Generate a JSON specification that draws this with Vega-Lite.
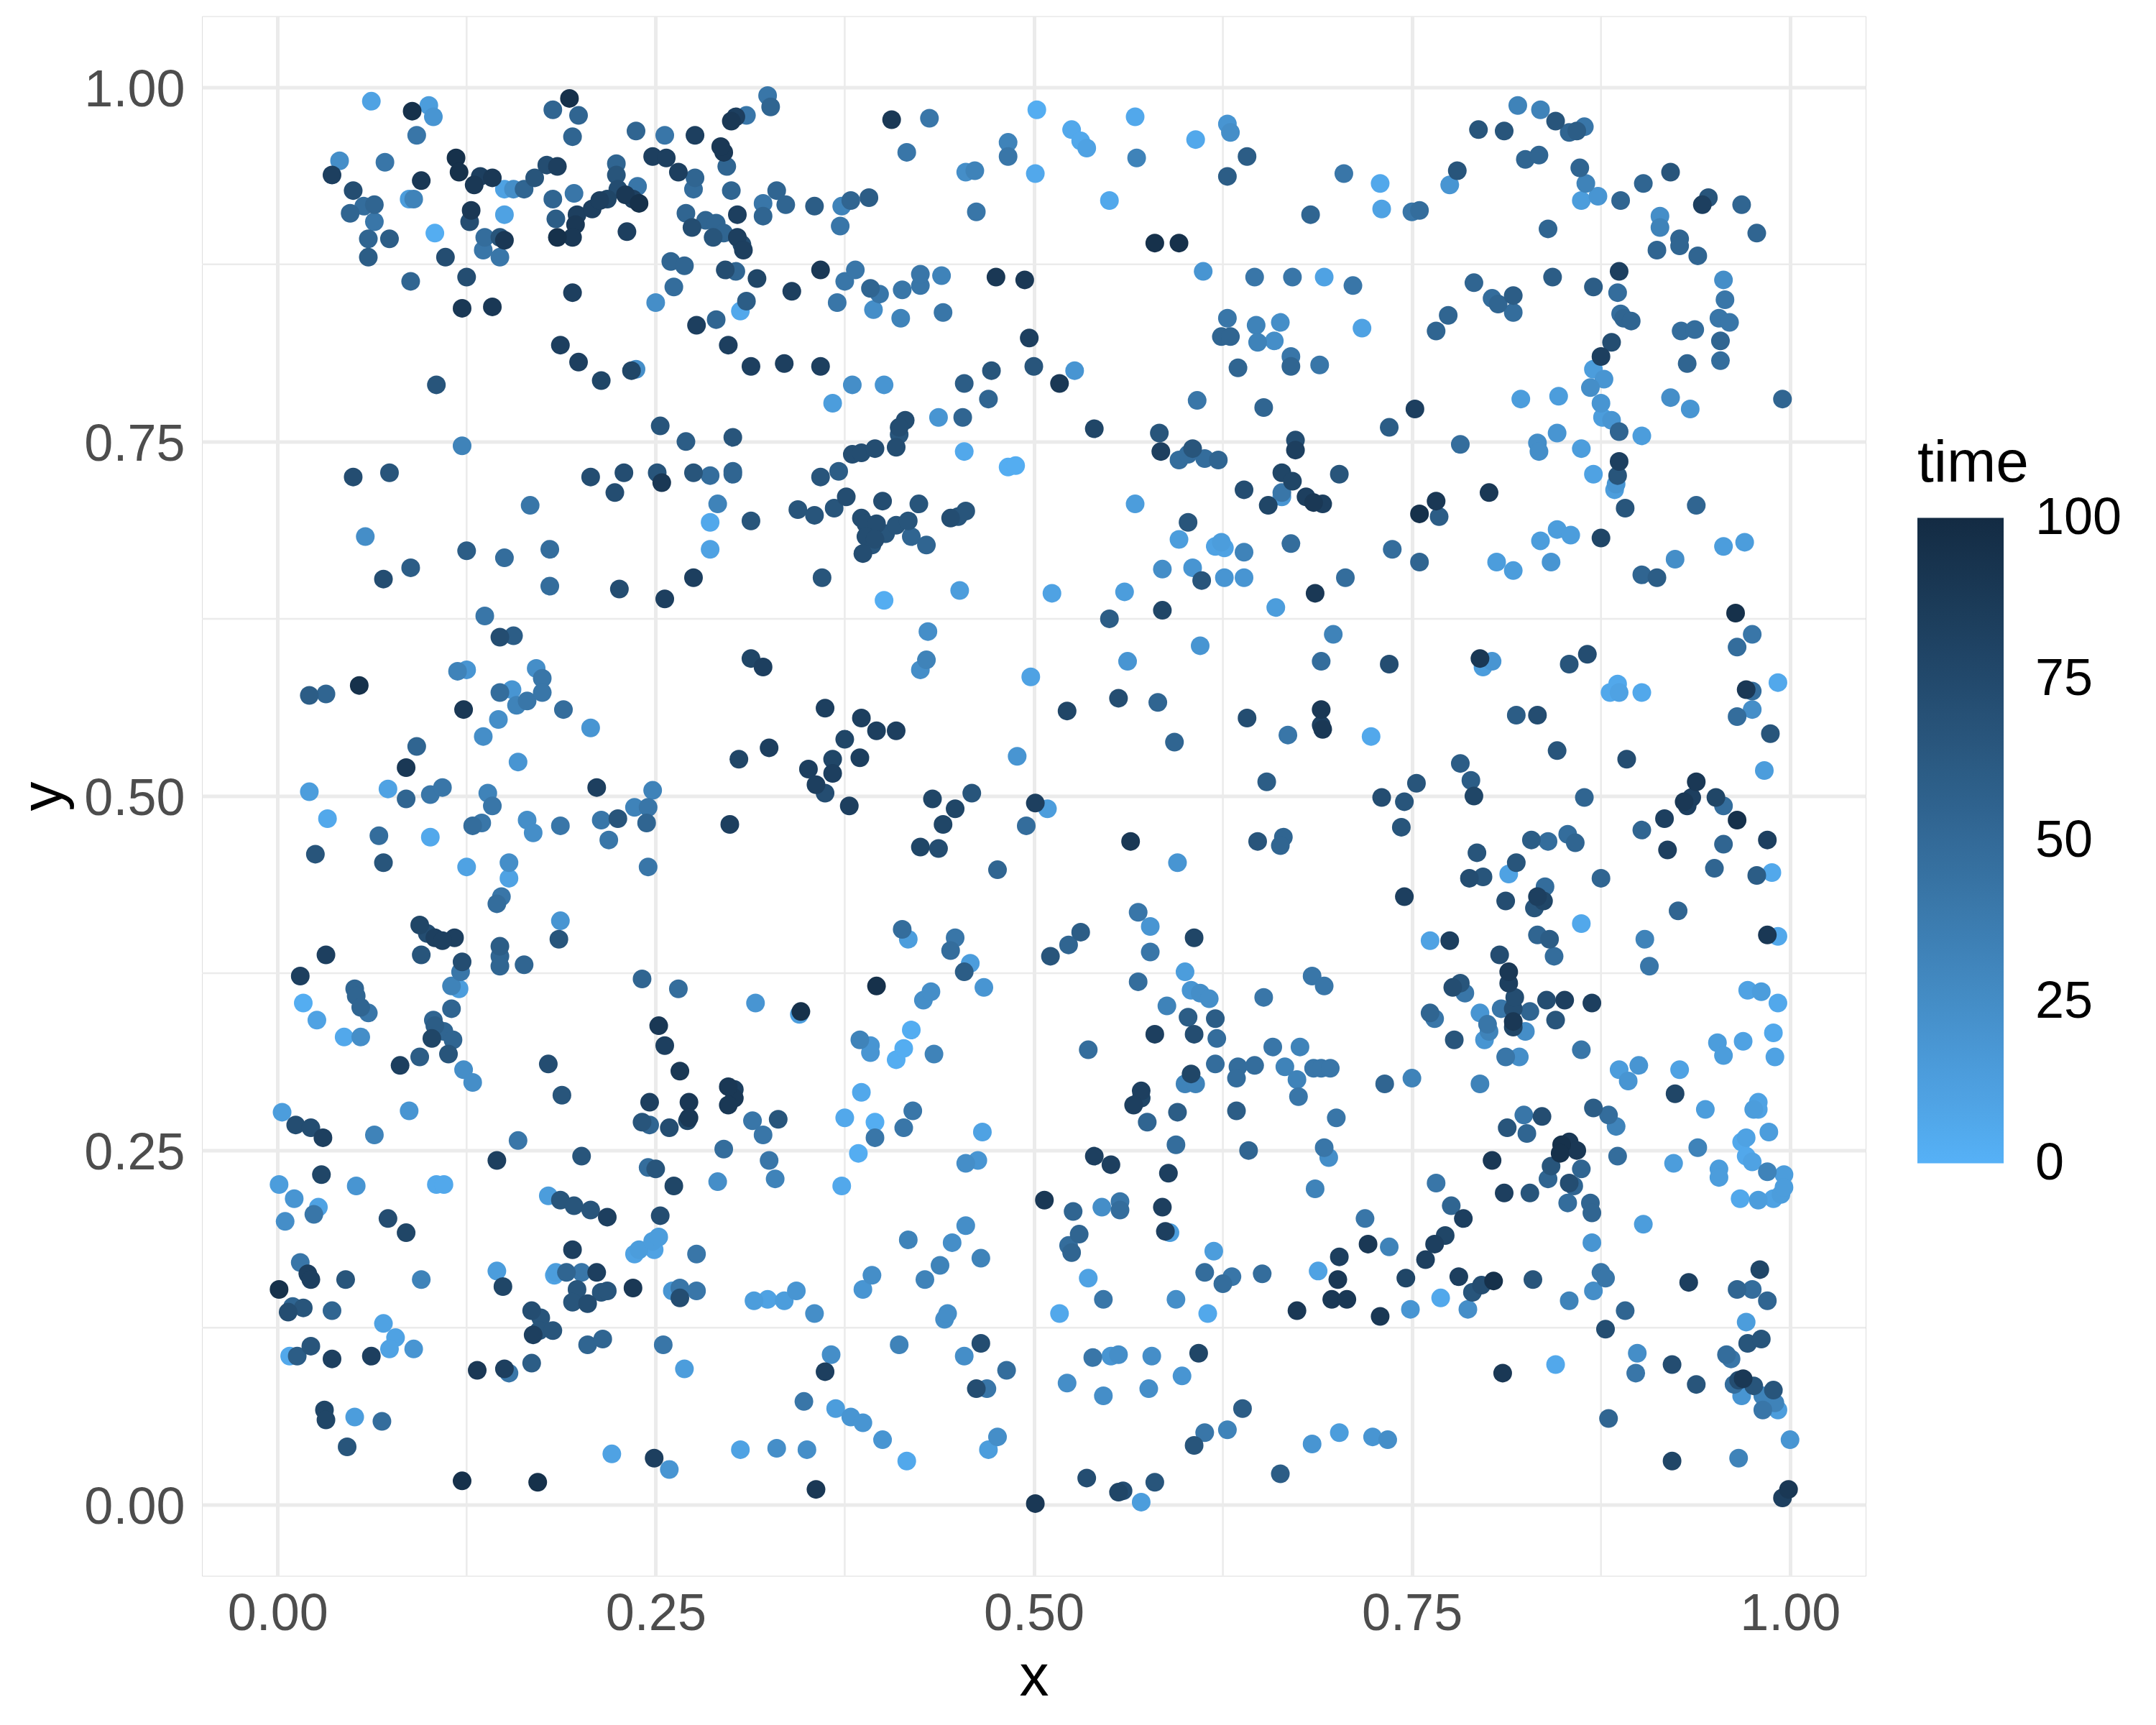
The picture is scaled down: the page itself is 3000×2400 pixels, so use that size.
{"$schema":"https://vega.github.io/schema/vega-lite/v6.json","width":2315,"height":2170,"autosize":{"type":"none"},"padding":{"left":281,"top":22.5,"right":404,"bottom":207.5},"background":"white",
"datasets":{"mx":[{"v":0.125},{"v":0.375},{"v":0.625},{"v":0.875}],
"pts":[
{"x":0.062,"y":0.99,"time":10},{"x":0.089,"y":0.983,"time":95},{"x":0.1,"y":0.987,"time":14},{"x":0.103,"y":0.979,"time":19},{"x":0.092,"y":0.966,"time":41},{"x":0.182,"y":0.984,"time":54},{"x":0.193,"y":0.992,"time":95},{"x":0.199,"y":0.98,"time":54},{"x":0.195,"y":0.965,"time":54},{"x":0.041,"y":0.948,"time":24},{"x":0.036,"y":0.938,"time":83},{"x":0.071,"y":0.947,"time":41},{"x":0.05,"y":0.927,"time":72},{"x":0.048,"y":0.911,"time":54},{"x":0.057,"y":0.916,"time":48},{"x":0.064,"y":0.917,"time":54},{"x":0.064,"y":0.905,"time":41},{"x":0.06,"y":0.893,"time":54},{"x":0.06,"y":0.88,"time":60},{"x":0.074,"y":0.893,"time":60},{"x":0.087,"y":0.921,"time":14},{"x":0.09,"y":0.921,"time":32},{"x":0.095,"y":0.934,"time":89},{"x":0.104,"y":0.897,"time":3},{"x":0.118,"y":0.95,"time":95},{"x":0.12,"y":0.94,"time":95},{"x":0.13,"y":0.931,"time":89},{"x":0.134,"y":0.937,"time":83},{"x":0.142,"y":0.936,"time":89},{"x":0.128,"y":0.913,"time":89},{"x":0.127,"y":0.905,"time":72},{"x":0.15,"y":0.928,"time":10},{"x":0.156,"y":0.928,"time":24},{"x":0.15,"y":0.91,"time":10},{"x":0.137,"y":0.894,"time":48},{"x":0.136,"y":0.885,"time":41},{"x":0.147,"y":0.894,"time":66},{"x":0.147,"y":0.88,"time":41},{"x":0.15,"y":0.892,"time":89},{"x":0.111,"y":0.88,"time":72},{"x":0.125,"y":0.866,"time":72},{"x":0.122,"y":0.844,"time":89},{"x":0.142,"y":0.845,"time":89},{"x":0.088,"y":0.863,"time":54},{"x":0.163,"y":0.928,"time":54},{"x":0.17,"y":0.936,"time":66},{"x":0.178,"y":0.945,"time":72},{"x":0.185,"y":0.944,"time":83},{"x":0.182,"y":0.921,"time":54},{"x":0.196,"y":0.925,"time":41},{"x":0.184,"y":0.907,"time":60},{"x":0.198,"y":0.91,"time":83},{"x":0.197,"y":0.903,"time":89},{"x":0.185,"y":0.894,"time":95},{"x":0.195,"y":0.894,"time":89},{"x":0.195,"y":0.855,"time":83},{"x":0.208,"y":0.914,"time":83},{"x":0.213,"y":0.92,"time":83},{"x":0.218,"y":0.921,"time":78},{"x":0.224,"y":0.946,"time":54},{"x":0.224,"y":0.938,"time":66},{"x":0.225,"y":0.928,"time":72},{"x":0.23,"y":0.924,"time":89},{"x":0.235,"y":0.921,"time":83},{"x":0.239,"y":0.918,"time":95},{"x":0.238,"y":0.93,"time":41},{"x":0.231,"y":0.898,"time":83},{"x":0.237,"y":0.969,"time":54},{"x":0.248,"y":0.951,"time":83},{"x":0.256,"y":0.966,"time":41},{"x":0.257,"y":0.95,"time":83},{"x":0.276,"y":0.966,"time":83},{"x":0.295,"y":0.954,"time":89},{"x":0.293,"y":0.958,"time":89},{"x":0.3,"y":0.976,"time":89},{"x":0.303,"y":0.979,"time":83},{"x":0.31,"y":0.98,"time":41},{"x":0.324,"y":0.994,"time":41},{"x":0.326,"y":0.986,"time":54},{"x":0.297,"y":0.944,"time":54},{"x":0.265,"y":0.94,"time":83},{"x":0.276,"y":0.936,"time":54},{"x":0.275,"y":0.928,"time":48},{"x":0.27,"y":0.911,"time":54},{"x":0.274,"y":0.901,"time":72},{"x":0.283,"y":0.906,"time":54},{"x":0.29,"y":0.904,"time":54},{"x":0.288,"y":0.894,"time":66},{"x":0.295,"y":0.897,"time":54},{"x":0.304,"y":0.91,"time":83},{"x":0.304,"y":0.894,"time":83},{"x":0.3,"y":0.927,"time":54},{"x":0.321,"y":0.918,"time":41},{"x":0.321,"y":0.909,"time":54},{"x":0.33,"y":0.927,"time":54},{"x":0.336,"y":0.917,"time":54},{"x":0.355,"y":0.916,"time":60},{"x":0.373,"y":0.916,"time":32},{"x":0.372,"y":0.902,"time":41},{"x":0.379,"y":0.92,"time":54},{"x":0.391,"y":0.922,"time":60},
{"x":0.406,"y":0.977,"time":89},{"x":0.431,"y":0.978,"time":41},{"x":0.416,"y":0.954,"time":41},{"x":0.483,"y":0.961,"time":32},{"x":0.483,"y":0.951,"time":41},{"x":0.455,"y":0.94,"time":24},{"x":0.461,"y":0.941,"time":32},{"x":0.462,"y":0.912,"time":41},{"x":0.502,"y":0.984,"time":3},{"x":0.501,"y":0.939,"time":6},{"x":0.525,"y":0.97,"time":6},{"x":0.531,"y":0.962,"time":6},{"x":0.535,"y":0.957,"time":10},{"x":0.55,"y":0.92,"time":6},{"x":0.567,"y":0.979,"time":6},{"x":0.568,"y":0.95,"time":32},{"x":0.607,"y":0.963,"time":6},{"x":0.628,"y":0.974,"time":19},{"x":0.63,"y":0.968,"time":24},{"x":0.628,"y":0.937,"time":60},{"x":0.641,"y":0.951,"time":60},{"x":0.683,"y":0.91,"time":54},{"x":0.705,"y":0.939,"time":41},{"x":0.729,"y":0.932,"time":6},{"x":0.73,"y":0.914,"time":10},{"x":0.75,"y":0.912,"time":41},{"x":0.755,"y":0.913,"time":48},{"x":0.775,"y":0.931,"time":19},{"x":0.78,"y":0.941,"time":66},{"x":0.794,"y":0.97,"time":66},{"x":0.811,"y":0.969,"time":66},{"x":0.82,"y":0.987,"time":32},{"x":0.835,"y":0.984,"time":32},{"x":0.845,"y":0.976,"time":66},{"x":0.854,"y":0.968,"time":54},{"x":0.859,"y":0.969,"time":60},{"x":0.864,"y":0.972,"time":41},{"x":0.825,"y":0.949,"time":54},{"x":0.834,"y":0.952,"time":54},{"x":0.861,"y":0.943,"time":54},{"x":0.865,"y":0.932,"time":32},{"x":0.873,"y":0.923,"time":19},{"x":0.862,"y":0.92,"time":14},{"x":0.84,"y":0.9,"time":54},{"x":0.888,"y":0.92,"time":54},{"x":0.903,"y":0.932,"time":54},{"x":0.921,"y":0.94,"time":66},{"x":0.914,"y":0.909,"time":24},{"x":0.914,"y":0.901,"time":32},{"x":0.927,"y":0.893,"time":54},{"x":0.927,"y":0.888,"time":54},{"x":0.912,"y":0.885,"time":54},{"x":0.939,"y":0.881,"time":54},{"x":0.946,"y":0.922,"time":66},{"x":0.942,"y":0.917,"time":83},{"x":0.968,"y":0.917,"time":54},{"x":0.978,"y":0.897,"time":54},
{"x":0.25,"y":0.848,"time":24},{"x":0.253,"y":0.761,"time":66},{"x":0.26,"y":0.877,"time":54},{"x":0.262,"y":0.859,"time":48},{"x":0.269,"y":0.874,"time":54},{"x":0.296,"y":0.871,"time":72},{"x":0.303,"y":0.87,"time":54},{"x":0.307,"y":0.889,"time":72},{"x":0.308,"y":0.885,"time":83},{"x":0.306,"y":0.842,"time":6},{"x":0.31,"y":0.849,"time":60},{"x":0.317,"y":0.865,"time":78},{"x":0.34,"y":0.856,"time":83},{"x":0.277,"y":0.832,"time":83},{"x":0.29,"y":0.836,"time":54},{"x":0.298,"y":0.818,"time":83},{"x":0.313,"y":0.803,"time":83},{"x":0.335,"y":0.805,"time":83},{"x":0.359,"y":0.871,"time":89},{"x":0.359,"y":0.803,"time":83},{"x":0.37,"y":0.848,"time":41},{"x":0.375,"y":0.863,"time":41},{"x":0.382,"y":0.871,"time":41},{"x":0.392,"y":0.858,"time":54},{"x":0.398,"y":0.854,"time":41},{"x":0.394,"y":0.843,"time":24},{"x":0.412,"y":0.837,"time":32},{"x":0.413,"y":0.857,"time":41},{"x":0.425,"y":0.86,"time":41},{"x":0.425,"y":0.868,"time":41},{"x":0.439,"y":0.867,"time":32},{"x":0.44,"y":0.841,"time":41},{"x":0.475,"y":0.866,"time":89},{"x":0.494,"y":0.864,"time":89},{"x":0.497,"y":0.823,"time":83},{"x":0.5,"y":0.803,"time":66},{"x":0.527,"y":0.8,"time":19},{"x":0.517,"y":0.791,"time":89},{"x":0.367,"y":0.777,"time":14},{"x":0.38,"y":0.79,"time":24},{"x":0.401,"y":0.79,"time":19},{"x":0.437,"y":0.767,"time":19},{"x":0.454,"y":0.791,"time":60},{"x":0.453,"y":0.767,"time":54},{"x":0.47,"y":0.78,"time":54},{"x":0.472,"y":0.8,"time":66},{"x":0.415,"y":0.765,"time":72},{"x":0.411,"y":0.76,"time":72},{"x":0.58,"y":0.89,"time":95},{"x":0.596,"y":0.89,"time":95},{"x":0.612,"y":0.87,"time":19},{"x":0.628,"y":0.837,"time":41},{"x":0.624,"y":0.824,"time":54},{"x":0.63,"y":0.824,"time":54},{"x":0.635,"y":0.802,"time":54},{"x":0.646,"y":0.866,"time":41},{"x":0.647,"y":0.832,"time":32},{"x":0.648,"y":0.82,"time":32},{"x":0.659,"y":0.821,"time":24},{"x":0.663,"y":0.834,"time":24},{"x":0.671,"y":0.866,"time":41},{"x":0.67,"y":0.81,"time":41},{"x":0.67,"y":0.803,"time":54},{"x":0.652,"y":0.774,"time":54},{"x":0.608,"y":0.779,"time":41},{"x":0.689,"y":0.804,"time":41},{"x":0.692,"y":0.866,"time":10},{"x":0.711,"y":0.86,"time":41},{"x":0.717,"y":0.83,"time":10},{"x":0.766,"y":0.828,"time":54},{"x":0.774,"y":0.839,"time":54},{"x":0.791,"y":0.862,"time":54},{"x":0.803,"y":0.851,"time":48},{"x":0.807,"y":0.847,"time":54},{"x":0.817,"y":0.853,"time":60},{"x":0.817,"y":0.841,"time":48},{"x":0.843,"y":0.866,"time":60},{"x":0.87,"y":0.859,"time":60},{"x":0.887,"y":0.87,"time":83},{"x":0.886,"y":0.855,"time":48},{"x":0.888,"y":0.84,"time":48},{"x":0.89,"y":0.837,"time":54},{"x":0.895,"y":0.835,"time":54},{"x":0.882,"y":0.82,"time":72},{"x":0.875,"y":0.81,"time":83},{"x":0.87,"y":0.801,"time":14},{"x":0.877,"y":0.794,"time":19},{"x":0.868,"y":0.788,"time":24},{"x":0.847,"y":0.782,"time":14},{"x":0.822,"y":0.78,"time":14},{"x":0.875,"y":0.777,"time":19},{"x":0.876,"y":0.767,"time":14},{"x":0.882,"y":0.765,"time":19},{"x":0.887,"y":0.757,"time":54},{"x":0.928,"y":0.828,"time":48},{"x":0.937,"y":0.829,"time":48},{"x":0.932,"y":0.805,"time":54},{"x":0.921,"y":0.781,"time":24},{"x":0.934,"y":0.773,"time":19},{"x":0.956,"y":0.864,"time":24},{"x":0.957,"y":0.85,"time":41},{"x":0.953,"y":0.837,"time":41},{"x":0.96,"y":0.834,"time":41},{"x":0.954,"y":0.821,"time":54},{"x":0.954,"y":0.807,"time":48},{"x":0.995,"y":0.78,"time":54},{"x":0.752,"y":0.773,"time":83},{"x":0.735,"y":0.76,"time":60},
{"x":0.05,"y":0.725,"time":72},{"x":0.074,"y":0.728,"time":66},{"x":0.058,"y":0.683,"time":24},{"x":0.07,"y":0.653,"time":72},{"x":0.088,"y":0.661,"time":60},{"x":0.122,"y":0.747,"time":32},{"x":0.125,"y":0.673,"time":60},{"x":0.15,"y":0.668,"time":48},{"x":0.105,"y":0.79,"time":66},{"x":0.187,"y":0.818,"time":83},{"x":0.199,"y":0.806,"time":83},{"x":0.214,"y":0.793,"time":78},{"x":0.234,"y":0.8,"time":78},{"x":0.237,"y":0.801,"time":24},{"x":0.207,"y":0.725,"time":72},{"x":0.223,"y":0.714,"time":72},{"x":0.229,"y":0.728,"time":72},{"x":0.254,"y":0.721,"time":89},{"x":0.27,"y":0.75,"time":60},{"x":0.251,"y":0.728,"time":66},{"x":0.275,"y":0.728,"time":66},{"x":0.286,"y":0.726,"time":48},{"x":0.291,"y":0.706,"time":32},{"x":0.286,"y":0.693,"time":6},{"x":0.286,"y":0.674,"time":10},{"x":0.301,"y":0.753,"time":66},{"x":0.301,"y":0.729,"time":54},{"x":0.301,"y":0.727,"time":54},{"x":0.313,"y":0.694,"time":66},{"x":0.275,"y":0.654,"time":83},{"x":0.226,"y":0.646,"time":72},{"x":0.256,"y":0.639,"time":83},{"x":0.167,"y":0.705,"time":41},{"x":0.18,"y":0.674,"time":48},{"x":0.18,"y":0.648,"time":48},{"x":0.137,"y":0.627,"time":41},{"x":0.147,"y":0.612,"time":72},{"x":0.156,"y":0.613,"time":60},{"x":0.344,"y":0.702,"time":66},{"x":0.355,"y":0.698,"time":66},{"x":0.359,"y":0.725,"time":66},{"x":0.371,"y":0.729,"time":60},{"x":0.38,"y":0.741,"time":72},{"x":0.386,"y":0.742,"time":72},{"x":0.395,"y":0.745,"time":72},{"x":0.409,"y":0.746,"time":72},{"x":0.411,"y":0.755,"time":66},{"x":0.36,"y":0.654,"time":66},{"x":0.368,"y":0.703,"time":66},{"x":0.376,"y":0.711,"time":72},{"x":0.386,"y":0.696,"time":72},{"x":0.389,"y":0.692,"time":72},{"x":0.396,"y":0.692,"time":72},{"x":0.4,"y":0.708,"time":72},{"x":0.389,"y":0.683,"time":72},{"x":0.395,"y":0.681,"time":72},{"x":0.387,"y":0.671,"time":72},{"x":0.393,"y":0.677,"time":66},{"x":0.402,"y":0.685,"time":66},{"x":0.409,"y":0.691,"time":66},{"x":0.417,"y":0.694,"time":66},{"x":0.419,"y":0.683,"time":54},{"x":0.424,"y":0.706,"time":66},{"x":0.429,"y":0.677,"time":54},{"x":0.445,"y":0.696,"time":72},{"x":0.45,"y":0.697,"time":66},{"x":0.455,"y":0.701,"time":66},{"x":0.454,"y":0.743,"time":6},{"x":0.483,"y":0.732,"time":3},{"x":0.488,"y":0.733,"time":3},{"x":0.401,"y":0.638,"time":3},{"x":0.451,"y":0.645,"time":14},{"x":0.43,"y":0.616,"time":24},{"x":0.512,"y":0.643,"time":10},{"x":0.54,"y":0.759,"time":78},{"x":0.583,"y":0.756,"time":66},{"x":0.584,"y":0.743,"time":83},{"x":0.605,"y":0.745,"time":66},{"x":0.596,"y":0.737,"time":48},{"x":0.602,"y":0.741,"time":48},{"x":0.613,"y":0.738,"time":48},{"x":0.622,"y":0.737,"time":54},{"x":0.639,"y":0.716,"time":72},{"x":0.567,"y":0.706,"time":14},{"x":0.602,"y":0.693,"time":66},{"x":0.596,"y":0.681,"time":14},{"x":0.585,"y":0.66,"time":24},{"x":0.605,"y":0.661,"time":19},{"x":0.611,"y":0.652,"time":66},{"x":0.62,"y":0.676,"time":10},{"x":0.624,"y":0.679,"time":14},{"x":0.626,"y":0.675,"time":10},{"x":0.639,"y":0.672,"time":32},{"x":0.626,"y":0.654,"time":19},{"x":0.639,"y":0.654,"time":19},{"x":0.66,"y":0.633,"time":14},{"x":0.585,"y":0.631,"time":78},{"x":0.56,"y":0.644,"time":14},{"x":0.55,"y":0.625,"time":60},{"x":0.61,"y":0.606,"time":19},{"x":0.655,"y":0.705,"time":78},{"x":0.664,"y":0.714,"time":41},{"x":0.664,"y":0.728,"time":78},{"x":0.671,"y":0.722,"time":78},{"x":0.673,"y":0.751,"time":72},{"x":0.673,"y":0.744,"time":83},{"x":0.664,"y":0.711,"time":19},{"x":0.67,"y":0.678,"time":48},{"x":0.68,"y":0.711,"time":83},{"x":0.685,"y":0.707,"time":89},{"x":0.691,"y":0.706,"time":83},{"x":0.702,"y":0.727,"time":66},{"x":0.706,"y":0.654,"time":48},{"x":0.686,"y":0.643,"time":89},{"x":0.698,"y":0.614,"time":32},{"x":0.737,"y":0.674,"time":48},{"x":0.755,"y":0.665,"time":54},{"x":0.766,"y":0.708,"time":89},{"x":0.755,"y":0.699,"time":95},{"x":0.768,"y":0.697,"time":60},{"x":0.782,"y":0.748,"time":48},{"x":0.801,"y":0.714,"time":89},{"x":0.806,"y":0.665,"time":14},{"x":0.817,"y":0.659,"time":14},{"x":0.833,"y":0.749,"time":24},{"x":0.834,"y":0.743,"time":24},{"x":0.846,"y":0.756,"time":19},{"x":0.862,"y":0.745,"time":14},{"x":0.87,"y":0.727,"time":10},{"x":0.887,"y":0.736,"time":83},{"x":0.886,"y":0.726,"time":66},{"x":0.885,"y":0.72,"time":19},{"x":0.884,"y":0.716,"time":14},{"x":0.902,"y":0.754,"time":14},{"x":0.835,"y":0.68,"time":14},{"x":0.846,"y":0.688,"time":14},{"x":0.855,"y":0.684,"time":14},{"x":0.842,"y":0.665,"time":19},{"x":0.875,"y":0.682,"time":78},{"x":0.891,"y":0.703,"time":66},{"x":0.902,"y":0.656,"time":54},{"x":0.912,"y":0.654,"time":60},{"x":0.924,"y":0.667,"time":24},{"x":0.938,"y":0.705,"time":54},{"x":0.956,"y":0.676,"time":14},{"x":0.97,"y":0.679,"time":14},{"x":0.964,"y":0.629,"time":95},{"x":0.975,"y":0.614,"time":41},{"x":0.965,"y":0.605,"time":48},
{"x":0.021,"y":0.571,"time":60},{"x":0.032,"y":0.572,"time":54},{"x":0.054,"y":0.578,"time":95},{"x":0.119,"y":0.588,"time":32},{"x":0.125,"y":0.589,"time":19},{"x":0.123,"y":0.561,"time":89},{"x":0.136,"y":0.542,"time":24},{"x":0.146,"y":0.554,"time":24},{"x":0.147,"y":0.573,"time":48},{"x":0.155,"y":0.575,"time":19},{"x":0.165,"y":0.567,"time":41},{"x":0.158,"y":0.564,"time":32},{"x":0.171,"y":0.59,"time":24},{"x":0.175,"y":0.583,"time":41},{"x":0.175,"y":0.573,"time":41},{"x":0.189,"y":0.561,"time":48},{"x":0.207,"y":0.548,"time":19},{"x":0.159,"y":0.524,"time":19},{"x":0.092,"y":0.535,"time":54},{"x":0.085,"y":0.52,"time":89},{"x":0.021,"y":0.503,"time":14},{"x":0.073,"y":0.505,"time":10},{"x":0.085,"y":0.498,"time":54},{"x":0.101,"y":0.501,"time":41},{"x":0.109,"y":0.506,"time":41},{"x":0.033,"y":0.484,"time":6},{"x":0.025,"y":0.459,"time":66},{"x":0.067,"y":0.472,"time":48},{"x":0.07,"y":0.453,"time":66},{"x":0.101,"y":0.471,"time":6},{"x":0.139,"y":0.502,"time":32},{"x":0.142,"y":0.493,"time":41},{"x":0.129,"y":0.479,"time":48},{"x":0.135,"y":0.481,"time":41},{"x":0.165,"y":0.483,"time":24},{"x":0.169,"y":0.474,"time":24},{"x":0.187,"y":0.479,"time":41},{"x":0.211,"y":0.506,"time":83},{"x":0.214,"y":0.483,"time":41},{"x":0.225,"y":0.484,"time":66},{"x":0.219,"y":0.469,"time":41},{"x":0.236,"y":0.492,"time":32},{"x":0.245,"y":0.492,"time":41},{"x":0.248,"y":0.504,"time":32},{"x":0.244,"y":0.481,"time":54},{"x":0.245,"y":0.45,"time":41},{"x":0.125,"y":0.45,"time":10},{"x":0.153,"y":0.453,"time":24},{"x":0.153,"y":0.442,"time":10},{"x":0.148,"y":0.429,"time":41},{"x":0.145,"y":0.424,"time":48},{"x":0.187,"y":0.412,"time":19},{"x":0.186,"y":0.399,"time":66},{"x":0.313,"y":0.597,"time":78},{"x":0.321,"y":0.591,"time":83},{"x":0.305,"y":0.526,"time":78},{"x":0.325,"y":0.534,"time":83},{"x":0.299,"y":0.48,"time":83},{"x":0.351,"y":0.519,"time":83},{"x":0.362,"y":0.562,"time":83},{"x":0.356,"y":0.508,"time":83},{"x":0.362,"y":0.502,"time":72},{"x":0.367,"y":0.526,"time":78},{"x":0.367,"y":0.516,"time":83},{"x":0.375,"y":0.54,"time":78},{"x":0.386,"y":0.555,"time":83},{"x":0.385,"y":0.527,"time":83},{"x":0.378,"y":0.493,"time":83},{"x":0.396,"y":0.546,"time":83},{"x":0.409,"y":0.546,"time":83},{"x":0.489,"y":0.528,"time":19},{"x":0.433,"y":0.498,"time":78},{"x":0.459,"y":0.502,"time":66},{"x":0.448,"y":0.491,"time":78},{"x":0.44,"y":0.48,"time":78},{"x":0.425,"y":0.464,"time":78},{"x":0.437,"y":0.463,"time":72},{"x":0.476,"y":0.448,"time":54},{"x":0.498,"y":0.584,"time":10},{"x":0.522,"y":0.56,"time":78},{"x":0.425,"y":0.589,"time":24},{"x":0.429,"y":0.596,"time":32},{"x":0.501,"y":0.495,"time":83},{"x":0.509,"y":0.491,"time":14},{"x":0.495,"y":0.479,"time":48},{"x":0.562,"y":0.595,"time":19},{"x":0.556,"y":0.569,"time":72},{"x":0.582,"y":0.566,"time":54},{"x":0.593,"y":0.538,"time":54},{"x":0.564,"y":0.468,"time":89},{"x":0.595,"y":0.453,"time":19},{"x":0.641,"y":0.555,"time":72},{"x":0.668,"y":0.543,"time":41},{"x":0.654,"y":0.51,"time":60},{"x":0.648,"y":0.468,"time":66},{"x":0.665,"y":0.471,"time":54},{"x":0.663,"y":0.465,"time":54},{"x":0.69,"y":0.595,"time":48},{"x":0.69,"y":0.561,"time":89},{"x":0.69,"y":0.55,"time":83},{"x":0.691,"y":0.547,"time":89},{"x":0.723,"y":0.542,"time":6},{"x":0.735,"y":0.593,"time":72},{"x":0.73,"y":0.499,"time":72},{"x":0.745,"y":0.496,"time":66},{"x":0.753,"y":0.509,"time":66},{"x":0.743,"y":0.478,"time":66},{"x":0.745,"y":0.429,"time":83},{"x":0.795,"y":0.597,"time":89},{"x":0.797,"y":0.591,"time":14},{"x":0.803,"y":0.595,"time":19},{"x":0.782,"y":0.523,"time":60},{"x":0.789,"y":0.511,"time":60},{"x":0.791,"y":0.5,"time":78},{"x":0.793,"y":0.46,"time":66},{"x":0.788,"y":0.442,"time":72},{"x":0.797,"y":0.443,"time":66},{"x":0.814,"y":0.445,"time":10},{"x":0.819,"y":0.453,"time":66},{"x":0.819,"y":0.557,"time":60},{"x":0.833,"y":0.557,"time":72},{"x":0.846,"y":0.532,"time":66},{"x":0.854,"y":0.593,"time":66},{"x":0.866,"y":0.6,"time":72},{"x":0.881,"y":0.573,"time":6},{"x":0.886,"y":0.579,"time":6},{"x":0.887,"y":0.573,"time":10},{"x":0.902,"y":0.573,"time":6},{"x":0.864,"y":0.499,"time":54},{"x":0.892,"y":0.526,"time":72},{"x":0.902,"y":0.476,"time":54},{"x":0.917,"y":0.484,"time":83},{"x":0.919,"y":0.462,"time":83},{"x":0.829,"y":0.469,"time":60},{"x":0.84,"y":0.468,"time":48},{"x":0.853,"y":0.473,"time":48},{"x":0.858,"y":0.467,"time":54},{"x":0.93,"y":0.496,"time":89},{"x":0.935,"y":0.499,"time":83},{"x":0.938,"y":0.51,"time":89},{"x":0.932,"y":0.493,"time":83},{"x":0.951,"y":0.499,"time":78},{"x":0.956,"y":0.493,"time":48},{"x":0.965,"y":0.483,"time":95},{"x":0.95,"y":0.449,"time":54},{"x":0.956,"y":0.466,"time":54},{"x":0.985,"y":0.469,"time":83},{"x":0.978,"y":0.444,"time":60},{"x":0.988,"y":0.446,"time":6},{"x":0.926,"y":0.419,"time":54},{"x":0.965,"y":0.556,"time":48},{"x":0.971,"y":0.575,"time":89},{"x":0.975,"y":0.574,"time":48},{"x":0.975,"y":0.561,"time":24},{"x":0.987,"y":0.544,"time":66},{"x":0.983,"y":0.518,"time":14},{"x":0.992,"y":0.58,"time":6},{"x":0.875,"y":0.442,"time":54},{"x":0.862,"y":0.41,"time":6},{"x":0.838,"y":0.436,"time":48},{"x":0.833,"y":0.429,"time":83},{"x":0.837,"y":0.426,"time":78},{"x":0.831,"y":0.421,"time":66},{"x":0.812,"y":0.426,"time":72},
{"x":0.015,"y":0.373,"time":83},{"x":0.032,"y":0.388,"time":83},{"x":0.017,"y":0.354,"time":3},{"x":0.026,"y":0.342,"time":10},{"x":0.044,"y":0.33,"time":6},{"x":0.051,"y":0.364,"time":54},{"x":0.052,"y":0.359,"time":54},{"x":0.055,"y":0.351,"time":54},{"x":0.06,"y":0.347,"time":41},{"x":0.055,"y":0.33,"time":24},{"x":0.094,"y":0.409,"time":78},{"x":0.099,"y":0.403,"time":72},{"x":0.095,"y":0.388,"time":66},{"x":0.104,"y":0.4,"time":83},{"x":0.117,"y":0.4,"time":83},{"x":0.109,"y":0.398,"time":83},{"x":0.122,"y":0.383,"time":72},{"x":0.121,"y":0.376,"time":41},{"x":0.115,"y":0.366,"time":32},{"x":0.12,"y":0.364,"time":14},{"x":0.115,"y":0.35,"time":54},{"x":0.103,"y":0.342,"time":54},{"x":0.104,"y":0.338,"time":60},{"x":0.102,"y":0.329,"time":78},{"x":0.11,"y":0.334,"time":54},{"x":0.116,"y":0.328,"time":54},{"x":0.113,"y":0.318,"time":66},{"x":0.094,"y":0.316,"time":60},{"x":0.081,"y":0.31,"time":83},{"x":0.123,"y":0.307,"time":24},{"x":0.129,"y":0.298,"time":24},{"x":0.147,"y":0.394,"time":60},{"x":0.147,"y":0.387,"time":54},{"x":0.147,"y":0.38,"time":54},{"x":0.163,"y":0.381,"time":54},{"x":0.179,"y":0.311,"time":72},{"x":0.188,"y":0.289,"time":66},{"x":0.241,"y":0.371,"time":54},{"x":0.265,"y":0.364,"time":48},{"x":0.252,"y":0.338,"time":89},{"x":0.256,"y":0.324,"time":83},{"x":0.266,"y":0.306,"time":89},{"x":0.272,"y":0.284,"time":89},{"x":0.272,"y":0.273,"time":89},{"x":0.246,"y":0.284,"time":83},{"x":0.241,"y":0.27,"time":66},{"x":0.246,"y":0.268,"time":54},{"x":0.259,"y":0.266,"time":72},{"x":0.271,"y":0.271,"time":78},{"x":0.245,"y":0.238,"time":48},{"x":0.25,"y":0.237,"time":66},{"x":0.262,"y":0.225,"time":78},{"x":0.253,"y":0.204,"time":72},{"x":0.145,"y":0.243,"time":83},{"x":0.159,"y":0.257,"time":41},{"x":0.201,"y":0.246,"time":66},{"x":0.302,"y":0.287,"time":89},{"x":0.298,"y":0.282,"time":89},{"x":0.298,"y":0.295,"time":89},{"x":0.302,"y":0.293,"time":83},{"x":0.295,"y":0.251,"time":48},{"x":0.291,"y":0.228,"time":24},{"x":0.314,"y":0.271,"time":41},{"x":0.321,"y":0.261,"time":41},{"x":0.331,"y":0.272,"time":66},{"x":0.325,"y":0.243,"time":41},{"x":0.329,"y":0.23,"time":32},{"x":0.316,"y":0.354,"time":19},{"x":0.345,"y":0.346,"time":14},{"x":0.346,"y":0.348,"time":95},{"x":0.396,"y":0.366,"time":95},{"x":0.375,"y":0.273,"time":6},{"x":0.386,"y":0.291,"time":6},{"x":0.384,"y":0.248,"time":3},{"x":0.373,"y":0.225,"time":6},{"x":0.395,"y":0.27,"time":3},{"x":0.395,"y":0.259,"time":41},{"x":0.385,"y":0.328,"time":32},{"x":0.392,"y":0.324,"time":19},{"x":0.392,"y":0.319,"time":19},{"x":0.409,"y":0.314,"time":3},{"x":0.414,"y":0.322,"time":3},{"x":0.419,"y":0.335,"time":3},{"x":0.427,"y":0.356,"time":24},{"x":0.432,"y":0.362,"time":24},{"x":0.434,"y":0.318,"time":32},{"x":0.42,"y":0.278,"time":41},{"x":0.414,"y":0.266,"time":41},{"x":0.413,"y":0.406,"time":48},{"x":0.417,"y":0.399,"time":14},{"x":0.445,"y":0.391,"time":48},{"x":0.448,"y":0.4,"time":41},{"x":0.458,"y":0.382,"time":14},{"x":0.454,"y":0.376,"time":60},{"x":0.467,"y":0.365,"time":19},{"x":0.466,"y":0.263,"time":10},{"x":0.463,"y":0.243,"time":19},{"x":0.455,"y":0.241,"time":24},{"x":0.511,"y":0.387,"time":66},{"x":0.523,"y":0.395,"time":54},{"x":0.531,"y":0.404,"time":60},{"x":0.536,"y":0.321,"time":48},{"x":0.569,"y":0.418,"time":41},{"x":0.577,"y":0.408,"time":19},{"x":0.577,"y":0.39,"time":41},{"x":0.569,"y":0.369,"time":48},{"x":0.606,"y":0.4,"time":78},{"x":0.6,"y":0.376,"time":14},{"x":0.588,"y":0.352,"time":32},{"x":0.604,"y":0.363,"time":19},{"x":0.61,"y":0.361,"time":24},{"x":0.616,"y":0.357,"time":24},{"x":0.652,"y":0.358,"time":41},{"x":0.684,"y":0.373,"time":41},{"x":0.692,"y":0.366,"time":41},{"x":0.602,"y":0.344,"time":60},{"x":0.62,"y":0.343,"time":60},{"x":0.621,"y":0.329,"time":48},{"x":0.606,"y":0.332,"time":72},{"x":0.58,"y":0.332,"time":83},{"x":0.571,"y":0.292,"time":83},{"x":0.571,"y":0.287,"time":78},{"x":0.566,"y":0.282,"time":83},{"x":0.575,"y":0.27,"time":54},{"x":0.604,"y":0.304,"time":78},{"x":0.6,"y":0.297,"time":32},{"x":0.607,"y":0.297,"time":32},{"x":0.595,"y":0.277,"time":60},{"x":0.594,"y":0.254,"time":48},{"x":0.62,"y":0.311,"time":48},{"x":0.635,"y":0.309,"time":48},{"x":0.634,"y":0.301,"time":48},{"x":0.646,"y":0.31,"time":48},{"x":0.658,"y":0.323,"time":41},{"x":0.666,"y":0.309,"time":32},{"x":0.674,"y":0.3,"time":32},{"x":0.676,"y":0.323,"time":32},{"x":0.675,"y":0.288,"time":41},{"x":0.685,"y":0.308,"time":41},{"x":0.69,"y":0.308,"time":41},{"x":0.696,"y":0.308,"time":41},{"x":0.7,"y":0.273,"time":41},{"x":0.634,"y":0.278,"time":60},{"x":0.642,"y":0.25,"time":54},{"x":0.692,"y":0.252,"time":41},{"x":0.695,"y":0.245,"time":24},{"x":0.686,"y":0.223,"time":32},{"x":0.732,"y":0.297,"time":54},{"x":0.75,"y":0.301,"time":32},{"x":0.762,"y":0.398,"time":10},{"x":0.775,"y":0.398,"time":83},{"x":0.762,"y":0.347,"time":54},{"x":0.765,"y":0.343,"time":41},{"x":0.777,"y":0.365,"time":72},{"x":0.782,"y":0.368,"time":66},{"x":0.785,"y":0.361,"time":41},{"x":0.778,"y":0.328,"time":66},{"x":0.795,"y":0.347,"time":19},{"x":0.798,"y":0.328,"time":19},{"x":0.801,"y":0.334,"time":32},{"x":0.8,"y":0.339,"time":41},{"x":0.808,"y":0.388,"time":72},{"x":0.809,"y":0.35,"time":41},{"x":0.814,"y":0.376,"time":89},{"x":0.814,"y":0.368,"time":83},{"x":0.812,"y":0.316,"time":41},{"x":0.821,"y":0.316,"time":24},{"x":0.817,"y":0.35,"time":72},{"x":0.818,"y":0.358,"time":72},{"x":0.817,"y":0.341,"time":89},{"x":0.817,"y":0.337,"time":78},{"x":0.825,"y":0.334,"time":24},{"x":0.828,"y":0.348,"time":54},{"x":0.833,"y":0.402,"time":54},{"x":0.841,"y":0.399,"time":60},{"x":0.844,"y":0.387,"time":48},{"x":0.839,"y":0.356,"time":72},{"x":0.851,"y":0.356,"time":83},{"x":0.845,"y":0.342,"time":66},{"x":0.869,"y":0.354,"time":83},{"x":0.862,"y":0.321,"time":41},{"x":0.795,"y":0.297,"time":32},{"x":0.824,"y":0.275,"time":41},{"x":0.813,"y":0.266,"time":66},{"x":0.826,"y":0.262,"time":54},{"x":0.836,"y":0.274,"time":72},{"x":0.849,"y":0.254,"time":95},{"x":0.854,"y":0.256,"time":89},{"x":0.859,"y":0.25,"time":89},{"x":0.848,"y":0.248,"time":95},{"x":0.842,"y":0.239,"time":66},{"x":0.84,"y":0.23,"time":54},{"x":0.854,"y":0.227,"time":72},{"x":0.857,"y":0.225,"time":54},{"x":0.862,"y":0.237,"time":54},{"x":0.87,"y":0.28,"time":60},{"x":0.88,"y":0.275,"time":48},{"x":0.885,"y":0.267,"time":32},{"x":0.886,"y":0.246,"time":48},{"x":0.887,"y":0.307,"time":14},{"x":0.893,"y":0.299,"time":19},{"x":0.9,"y":0.31,"time":19},{"x":0.904,"y":0.399,"time":32},{"x":0.907,"y":0.38,"time":41},{"x":0.924,"y":0.29,"time":78},{"x":0.927,"y":0.307,"time":10},{"x":0.939,"y":0.252,"time":32},{"x":0.944,"y":0.279,"time":14},{"x":0.923,"y":0.241,"time":14},{"x":0.952,"y":0.326,"time":14},{"x":0.956,"y":0.317,"time":14},{"x":0.953,"y":0.237,"time":14},{"x":0.953,"y":0.231,"time":14},{"x":0.969,"y":0.327,"time":10},{"x":0.972,"y":0.363,"time":10},{"x":0.981,"y":0.362,"time":14},{"x":0.992,"y":0.401,"time":6},{"x":0.985,"y":0.402,"time":89},{"x":0.992,"y":0.354,"time":6},{"x":0.989,"y":0.333,"time":6},{"x":0.99,"y":0.316,"time":10},{"x":0.979,"y":0.284,"time":10},{"x":0.979,"y":0.279,"time":10},{"x":0.976,"y":0.279,"time":14},{"x":0.971,"y":0.259,"time":10},{"x":0.968,"y":0.256,"time":6},{"x":0.971,"y":0.246,"time":6},{"x":0.975,"y":0.242,"time":10},{"x":0.986,"y":0.263,"time":14},{"x":0.996,"y":0.233,"time":14},{"x":0.985,"y":0.235,"time":32},{"x":0.967,"y":0.216,"time":6},{"x":0.979,"y":0.215,"time":14},{"x":0.989,"y":0.216,"time":10},{"x":0.994,"y":0.219,"time":14},{"x":0.996,"y":0.224,"time":14},
{"x":0.003,"y":0.277,"time":14},{"x":0.012,"y":0.268,"time":72},{"x":0.022,"y":0.266,"time":72},{"x":0.03,"y":0.259,"time":83},{"x":0.064,"y":0.261,"time":32},{"x":0.087,"y":0.278,"time":19},{"x":0.001,"y":0.226,"time":14},{"x":0.029,"y":0.233,"time":78},{"x":0.011,"y":0.216,"time":19},{"x":0.027,"y":0.21,"time":10},{"x":0.024,"y":0.205,"time":41},{"x":0.005,"y":0.2,"time":24},{"x":0.052,"y":0.225,"time":19},{"x":0.073,"y":0.202,"time":72},{"x":0.085,"y":0.192,"time":78},{"x":0.095,"y":0.159,"time":32},{"x":0.105,"y":0.226,"time":6},{"x":0.11,"y":0.226,"time":6},{"x":0.015,"y":0.171,"time":41},{"x":0.02,"y":0.163,"time":83},{"x":0.022,"y":0.159,"time":83},{"x":0.045,"y":0.159,"time":66},{"x":0.001,"y":0.152,"time":95},{"x":0.007,"y":0.136,"time":72},{"x":0.01,"y":0.14,"time":54},{"x":0.017,"y":0.139,"time":66},{"x":0.036,"y":0.137,"time":54},{"x":0.022,"y":0.112,"time":66},{"x":0.008,"y":0.105,"time":6},{"x":0.013,"y":0.105,"time":60},{"x":0.036,"y":0.103,"time":83},{"x":0.062,"y":0.105,"time":83},{"x":0.07,"y":0.128,"time":10},{"x":0.078,"y":0.118,"time":10},{"x":0.074,"y":0.11,"time":10},{"x":0.09,"y":0.11,"time":19},{"x":0.031,"y":0.067,"time":78},{"x":0.032,"y":0.06,"time":78},{"x":0.046,"y":0.041,"time":66},{"x":0.051,"y":0.062,"time":14},{"x":0.069,"y":0.059,"time":48},{"x":0.132,"y":0.095,"time":89},{"x":0.15,"y":0.096,"time":83},{"x":0.153,"y":0.093,"time":41},{"x":0.168,"y":0.1,"time":60},{"x":0.145,"y":0.165,"time":14},{"x":0.149,"y":0.154,"time":78},{"x":0.168,"y":0.137,"time":72},{"x":0.174,"y":0.132,"time":66},{"x":0.169,"y":0.12,"time":83},{"x":0.173,"y":0.123,"time":66},{"x":0.182,"y":0.123,"time":66},{"x":0.122,"y":0.017,"time":95},{"x":0.172,"y":0.016,"time":95},{"x":0.179,"y":0.218,"time":14},{"x":0.187,"y":0.215,"time":66},{"x":0.196,"y":0.211,"time":66},{"x":0.207,"y":0.208,"time":66},{"x":0.218,"y":0.203,"time":83},{"x":0.195,"y":0.18,"time":83},{"x":0.184,"y":0.164,"time":14},{"x":0.183,"y":0.162,"time":10},{"x":0.191,"y":0.164,"time":54},{"x":0.201,"y":0.164,"time":41},{"x":0.198,"y":0.152,"time":66},{"x":0.195,"y":0.143,"time":66},{"x":0.205,"y":0.142,"time":72},{"x":0.211,"y":0.164,"time":83},{"x":0.214,"y":0.15,"time":66},{"x":0.218,"y":0.151,"time":66},{"x":0.205,"y":0.113,"time":54},{"x":0.215,"y":0.117,"time":54},{"x":0.235,"y":0.153,"time":89},{"x":0.236,"y":0.177,"time":10},{"x":0.239,"y":0.18,"time":14},{"x":0.248,"y":0.186,"time":14},{"x":0.252,"y":0.189,"time":14},{"x":0.249,"y":0.18,"time":10},{"x":0.261,"y":0.151,"time":19},{"x":0.266,"y":0.153,"time":41},{"x":0.266,"y":0.146,"time":72},{"x":0.277,"y":0.177,"time":41},{"x":0.277,"y":0.151,"time":41},{"x":0.255,"y":0.113,"time":41},{"x":0.269,"y":0.096,"time":14},{"x":0.221,"y":0.036,"time":10},{"x":0.249,"y":0.033,"time":83},{"x":0.259,"y":0.025,"time":19},
{"x":0.306,"y":0.039,"time":10},{"x":0.33,"y":0.04,"time":24},{"x":0.35,"y":0.039,"time":24},{"x":0.348,"y":0.073,"time":41},{"x":0.362,"y":0.094,"time":83},{"x":0.366,"y":0.106,"time":24},{"x":0.356,"y":0.011,"time":89},{"x":0.369,"y":0.068,"time":14},{"x":0.379,"y":0.062,"time":19},{"x":0.387,"y":0.058,"time":19},{"x":0.4,"y":0.046,"time":19},{"x":0.416,"y":0.031,"time":6},{"x":0.411,"y":0.113,"time":32},{"x":0.315,"y":0.144,"time":14},{"x":0.324,"y":0.145,"time":10},{"x":0.335,"y":0.144,"time":14},{"x":0.343,"y":0.151,"time":19},{"x":0.355,"y":0.135,"time":24},{"x":0.387,"y":0.152,"time":19},{"x":0.393,"y":0.162,"time":24},{"x":0.417,"y":0.187,"time":32},{"x":0.428,"y":0.159,"time":32},{"x":0.438,"y":0.169,"time":32},{"x":0.446,"y":0.185,"time":24},{"x":0.455,"y":0.197,"time":24},{"x":0.465,"y":0.174,"time":32},{"x":0.441,"y":0.131,"time":24},{"x":0.443,"y":0.135,"time":24},{"x":0.454,"y":0.105,"time":24},{"x":0.465,"y":0.114,"time":72},{"x":0.462,"y":0.082,"time":72},{"x":0.469,"y":0.082,"time":41},{"x":0.482,"y":0.095,"time":48},{"x":0.476,"y":0.048,"time":24},{"x":0.47,"y":0.039,"time":14},{"x":0.501,"y":0.001,"time":89},{"x":0.507,"y":0.215,"time":89},{"x":0.517,"y":0.135,"time":6},{"x":0.522,"y":0.086,"time":24},{"x":0.526,"y":0.207,"time":54},{"x":0.523,"y":0.183,"time":48},{"x":0.525,"y":0.178,"time":54},{"x":0.53,"y":0.191,"time":54},{"x":0.536,"y":0.16,"time":10},{"x":0.546,"y":0.145,"time":41},{"x":0.539,"y":0.104,"time":41},{"x":0.546,"y":0.077,"time":24},{"x":0.551,"y":0.105,"time":19},{"x":0.556,"y":0.106,"time":24},{"x":0.535,"y":0.019,"time":72},{"x":0.556,"y":0.009,"time":78},{"x":0.559,"y":0.01,"time":72},{"x":0.571,"y":0.002,"time":14},{"x":0.58,"y":0.016,"time":66},{"x":0.576,"y":0.082,"time":24},{"x":0.578,"y":0.105,"time":24},{"x":0.598,"y":0.091,"time":19},{"x":0.609,"y":0.107,"time":78},{"x":0.594,"y":0.145,"time":24},{"x":0.585,"y":0.21,"time":83},{"x":0.587,"y":0.193,"time":83},{"x":0.59,"y":0.192,"time":14},{"x":0.551,"y":0.24,"time":83},{"x":0.54,"y":0.246,"time":83},{"x":0.545,"y":0.21,"time":24},{"x":0.557,"y":0.214,"time":41},{"x":0.557,"y":0.208,"time":48},{"x":0.589,"y":0.234,"time":83},{"x":0.613,"y":0.164,"time":48},{"x":0.619,"y":0.179,"time":14},{"x":0.615,"y":0.135,"time":6},{"x":0.625,"y":0.156,"time":48},{"x":0.631,"y":0.161,"time":41},{"x":0.651,"y":0.163,"time":48},{"x":0.606,"y":0.042,"time":66},{"x":0.613,"y":0.051,"time":41},{"x":0.628,"y":0.053,"time":32},{"x":0.638,"y":0.068,"time":60},{"x":0.663,"y":0.022,"time":60},{"x":0.674,"y":0.137,"time":89},{"x":0.684,"y":0.043,"time":19},{"x":0.702,"y":0.051,"time":14},{"x":0.724,"y":0.048,"time":19},{"x":0.734,"y":0.046,"time":24},{"x":0.688,"y":0.165,"time":10},{"x":0.702,"y":0.175,"time":83},{"x":0.697,"y":0.145,"time":89},{"x":0.707,"y":0.145,"time":89},{"x":0.701,"y":0.159,"time":89},{"x":0.721,"y":0.184,"time":89},{"x":0.719,"y":0.202,"time":41},{"x":0.735,"y":0.182,"time":32},{"x":0.729,"y":0.133,"time":89},{"x":0.746,"y":0.16,"time":78},{"x":0.749,"y":0.138,"time":19},{"x":0.759,"y":0.173,"time":83},{"x":0.765,"y":0.184,"time":83},{"x":0.772,"y":0.19,"time":78},{"x":0.766,"y":0.227,"time":41},{"x":0.776,"y":0.211,"time":54},{"x":0.784,"y":0.202,"time":83},{"x":0.769,"y":0.146,"time":6},{"x":0.781,"y":0.161,"time":83},{"x":0.787,"y":0.138,"time":24},{"x":0.79,"y":0.15,"time":66},{"x":0.796,"y":0.155,"time":72},{"x":0.804,"y":0.158,"time":95},{"x":0.811,"y":0.22,"time":83},{"x":0.803,"y":0.243,"time":89},{"x":0.83,"y":0.159,"time":66},{"x":0.828,"y":0.22,"time":66},{"x":0.81,"y":0.093,"time":89},{"x":0.845,"y":0.099,"time":6},{"x":0.854,"y":0.144,"time":32},{"x":0.853,"y":0.213,"time":48},{"x":0.868,"y":0.213,"time":54},{"x":0.869,"y":0.206,"time":54},{"x":0.869,"y":0.185,"time":19},{"x":0.875,"y":0.164,"time":41},{"x":0.878,"y":0.16,"time":41},{"x":0.87,"y":0.151,"time":24},{"x":0.878,"y":0.124,"time":72},{"x":0.891,"y":0.137,"time":54},{"x":0.88,"y":0.061,"time":54},{"x":0.899,"y":0.107,"time":24},{"x":0.898,"y":0.093,"time":41},{"x":0.903,"y":0.198,"time":14},{"x":0.922,"y":0.099,"time":72},{"x":0.922,"y":0.031,"time":78},{"x":0.933,"y":0.157,"time":83},{"x":0.938,"y":0.085,"time":66},{"x":0.958,"y":0.106,"time":48},{"x":0.961,"y":0.103,"time":41},{"x":0.963,"y":0.085,"time":48},{"x":0.966,"y":0.088,"time":72},{"x":0.966,"y":0.033,"time":32},{"x":0.965,"y":0.152,"time":54},{"x":0.975,"y":0.152,"time":48},{"x":0.971,"y":0.129,"time":14},{"x":0.972,"y":0.114,"time":66},{"x":0.981,"y":0.117,"time":66},{"x":0.98,"y":0.166,"time":78},{"x":0.985,"y":0.144,"time":54},{"x":0.969,"y":0.089,"time":89},{"x":0.976,"y":0.084,"time":66},{"x":0.968,"y":0.077,"time":19},{"x":0.982,"y":0.077,"time":32},{"x":0.989,"y":0.081,"time":66},{"x":0.99,"y":0.072,"time":32},{"x":0.982,"y":0.067,"time":41},{"x":0.992,"y":0.067,"time":14},{"x":1.0,"y":0.046,"time":19},{"x":0.999,"y":0.011,"time":89},{"x":0.995,"y":0.005,"time":83}
]},
"layer":[
{"data":{"name":"mx"},"mark":{"type":"rule","color":"#ebebeb","strokeWidth":2.5},"encoding":{"x":{"field":"v","type":"quantitative","scale":{"domain":[-0.05,1.05],"nice":false,"zero":false}}}},
{"data":{"name":"mx"},"mark":{"type":"rule","color":"#ebebeb","strokeWidth":2.5},"encoding":{"y":{"field":"v","type":"quantitative","scale":{"domain":[-0.05,1.05],"nice":false,"zero":false}}}},
{"data":{"name":"pts"},"mark":{"type":"circle","size":676,"opacity":1},
"encoding":{
"x":{"field":"x","type":"quantitative","scale":{"domain":[-0.05,1.05],"nice":false,"zero":false},"axis":{"values":[0,0.25,0.5,0.75,1],"format":".2f","title":"x","grid":true,"gridColor":"#ebebeb","gridWidth":5,"domain":false,"ticks":false,"labelFont":"Liberation Sans","labelFontSize":72,"labelColor":"#4d4d4d","labelPadding":18,"titleFont":"Liberation Sans","titleFontSize":82,"titleFontWeight":"normal","titleColor":"black","titlePadding":12,"labelFlush":false}},
"y":{"field":"y","type":"quantitative","scale":{"domain":[-0.05,1.05],"nice":false,"zero":false},"axis":{"values":[0,0.25,0.5,0.75,1],"format":".2f","title":"y","grid":true,"gridColor":"#ebebeb","gridWidth":5,"domain":false,"ticks":false,"labelFont":"Liberation Sans","labelFontSize":72,"labelColor":"#4d4d4d","labelPadding":24,"labelOffset":4,"titleFont":"Liberation Sans","titleFontSize":82,"titleFontWeight":"normal","titleColor":"black","titlePadding":14,"labelFlush":false}},
"color":{"field":"time","type":"quantitative","scale":{"domain":[0,100],"range":["#56B1F7","#132B43"],"interpolate":"lab"},"legend":{"orient":"none","legendX":2387,"legendY":582,"title":"time","values":[0,25,50,75,100],"gradientLength":898,"gradientThickness":120,"labelFont":"Liberation Sans","labelFontSize":72,"labelColor":"black","labelOffset":44,"titleFont":"Liberation Sans","titleFontSize":82,"titleFontWeight":"normal","titleColor":"black","titlePadding":34,"gradientStrokeWidth":0,"encoding":{"labels":{"baseline":{"value":"middle"}}}}},
"order":{"field":"time","type":"quantitative"}
}}
]}
